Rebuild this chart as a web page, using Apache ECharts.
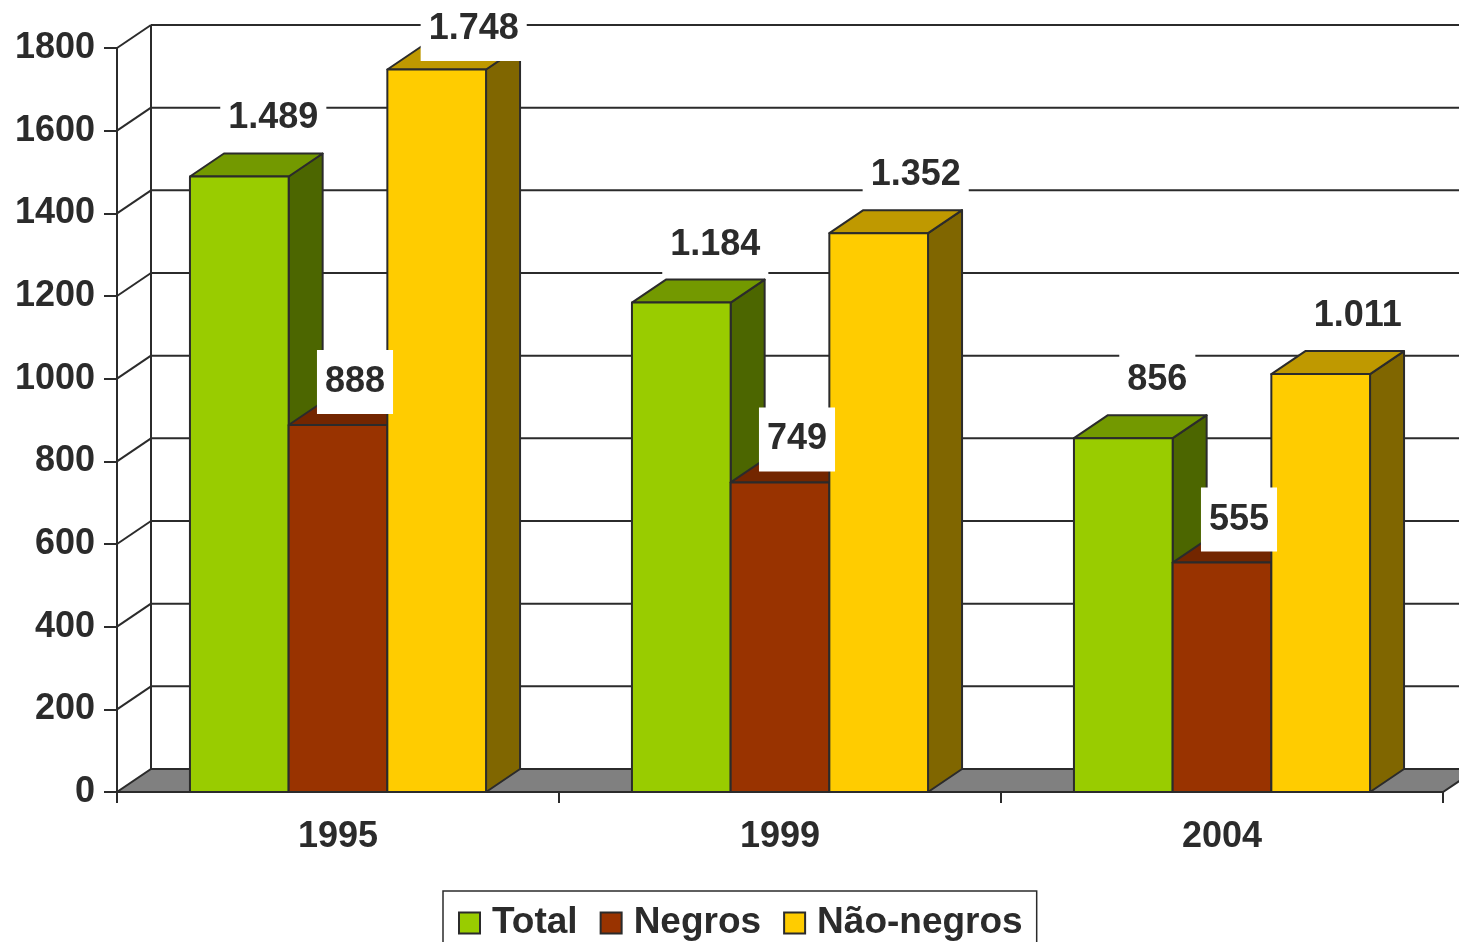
<!DOCTYPE html>
<html>
<head>
<meta charset="utf-8">
<script src="https://cdn.jsdelivr.net/npm/echarts@6/dist/echarts.min.js"></script>
<style>
html,body{margin:0;padding:0;background:#fff;}
#chart{width:1459px;height:942px;}
</style>
</head>
<body>
<div id="chart"></div>
<script>
// ---- data ----
const categories = ['1995', '1999', '2004'];
const seriesNames = ['Total', 'Negros', 'Não-negros'];
const total = [1489, 1184, 856];
const negros = [888, 749, 555];
const naoNegros = [1748, 1352, 1011];
const yMin = 0, yMax = 1800, yStep = 200;

// ---- style ----
const FONT = '"Liberation Sans", Arial, sans-serif';
const TXT = '#2b2b2b';
const EDGE = '#2b2b2b';
const DX = 34, DY = -23;
const BAR_FRAC = 0.2233;
const palette = [
  { front: '#99CC00', side: '#4C6600', top: '#739900' },
  { front: '#993300', side: '#4D1A00', top: '#732600' },
  { front: '#FFCC00', side: '#806600', top: '#BF9900' }
];
const labelOffset = [ {dx: 34, dy: -58}, {dx: 17, dy: -43}, {dx: 37, dy: -58} ];

const seriesValues = [total, negros, naoNegros];
const yTickValues = [];
for (let v = yMin; v <= yMax; v += yStep) yTickValues.push(v);

function fmt(v) {
  if (v >= 1000) {
    const r = String(v % 1000).padStart(3, '0');
    return Math.floor(v / 1000) + '.' + r;
  }
  return String(v);
}

function renderWalls(params, api) {
  const cs = params.coordSys;
  const x0 = cs.x, x1 = cs.x + cs.width;
  const yB = api.coord([0, yMin])[1];
  const yT = api.coord([0, yMax])[1];
  const ls = { stroke: EDGE, lineWidth: 2 };
  const children = [];
  children.push({ type: 'polygon', shape: { points: [[x0, yB], [x1, yB], [x1 + DX, yB + DY], [x0 + DX, yB + DY]] },
    style: { fill: '#808080', stroke: EDGE, lineWidth: 2 } });
  yTickValues.forEach(v => {
    const y = api.coord([0, v])[1];
    if (v !== yMin) {
      children.push({ type: 'line', shape: { x1: x0 + DX, y1: y + DY, x2: x1 + DX, y2: y + DY }, style: ls });
      children.push({ type: 'line', shape: { x1: x0, y1: y, x2: x0 + DX, y2: y + DY }, style: ls });
    }
  });
  children.push({ type: 'line', shape: { x1: x0 + DX, y1: yT + DY, x2: x0 + DX, y2: yB + DY }, style: ls });
  return { type: 'group', children: children };
}

function makeBarRender(s) {
  const col = palette[s];
  return function (params, api) {
    const c = api.value(0), v = api.value(1);
    const top = api.coord([c, v]);
    const base = api.coord([c, 0]);
    const band = api.size([1, 0])[0];
    const bw = band * BAR_FRAC;
    const x0 = top[0] - 1.5 * bw + s * bw, x1 = x0 + bw;
    const yT = top[1], yB = base[1];
    const st = { stroke: EDGE, lineWidth: 2, lineJoin: 'round' };
    return { type: 'group', children: [
      { type: 'polygon', shape: { points: [[x1, yT], [x1 + DX, yT + DY], [x1 + DX, yB + DY], [x1, yB]] },
        style: Object.assign({ fill: col.side }, st) },
      { type: 'polygon', shape: { points: [[x0, yT], [x1, yT], [x1 + DX, yT + DY], [x0 + DX, yT + DY]] },
        style: Object.assign({ fill: col.top }, st) },
      { type: 'rect', shape: { x: x0, y: yT, width: bw, height: yB - yT },
        style: Object.assign({ fill: col.front }, st) }
    ] };
  };
}

function renderLabel(params, api) {
  const c = api.value(0), v = api.value(1), s = api.value(2);
  const top = api.coord([c, v]);
  const band = api.size([1, 0])[0];
  const bw = band * BAR_FRAC;
  const cx = top[0] - 1.5 * bw + s * bw + bw / 2;
  let y = top[1] + labelOffset[s].dy;
  const minY = params.coordSys.y - 19;
  if (y < minY) y = minY;
  return {
    type: 'text',
    x: cx + labelOffset[s].dx, y: y,
    style: {
      text: fmt(v), fill: TXT, font: 'bold 36px ' + FONT,
      align: 'center', verticalAlign: 'middle', lineHeight: 40,
      backgroundColor: '#ffffff', padding: [12, 8]
    }
  };
}

const labelData = [];
seriesValues.forEach((arr, s) => arr.forEach((v, i) => labelData.push([i, v, s])));

const chart = echarts.init(document.getElementById('chart'), null, { renderer: 'canvas' });
const series = [
  { type: 'custom', name: '_walls', renderItem: renderWalls, data: [[0, 0]], encode: { x: 0, y: 1 }, silent: true, z: 2 }
];
seriesValues.forEach((arr, s) => {
  series.push({
    type: 'custom', name: seriesNames[s], renderItem: makeBarRender(s),
    data: arr.map((v, i) => [i, v]), encode: { x: 0, y: 1 },
    itemStyle: { color: palette[s].front, borderColor: EDGE, borderWidth: 2 }, z: 3
  });
});
series.push({ type: 'custom', name: '_labels', renderItem: renderLabel, data: labelData, encode: { x: 0, y: 1 }, z: 5 });

chart.setOption({
  animation: false,
  backgroundColor: '#ffffff',
  grid: { left: 117, right: 16, top: 48, bottom: 150, containLabel: false },
  xAxis: {
    type: 'category', data: categories,
    axisLine: { show: true, lineStyle: { color: EDGE, width: 2 } },
    axisTick: { show: true, length: 11, lineStyle: { color: EDGE, width: 2 } },
    axisLabel: { color: TXT, fontSize: 36, fontWeight: 'bold', fontFamily: FONT, margin: 25, lineHeight: 40 },
    splitLine: { show: false }
  },
  yAxis: {
    type: 'value', min: yMin, max: yMax, interval: yStep,
    axisLine: { show: true, lineStyle: { color: EDGE, width: 2 } },
    axisTick: { show: true, length: 13, lineStyle: { color: EDGE, width: 2 } },
    axisLabel: { color: TXT, fontSize: 36, fontWeight: 'bold', fontFamily: FONT, margin: 22, padding: [6, 0, 0, 0],
      formatter: function (v) { return String(v); } },
    splitLine: { show: false }
  },
  legend: {
    data: seriesNames, left: 443, top: 891, orient: 'horizontal',
    icon: 'rect', itemWidth: 21, itemHeight: 21, itemGap: 22,
    borderColor: EDGE, borderWidth: 1.5, padding: [12, 14, 9, 15],
    itemStyle: { borderColor: EDGE, borderWidth: 2 },
    textStyle: { color: TXT, fontSize: 37, fontWeight: 'bold', fontFamily: FONT, lineHeight: 40, padding: [0, 0, 0, 7] }
  },
  series: series
});
</script>
</body>
</html>
